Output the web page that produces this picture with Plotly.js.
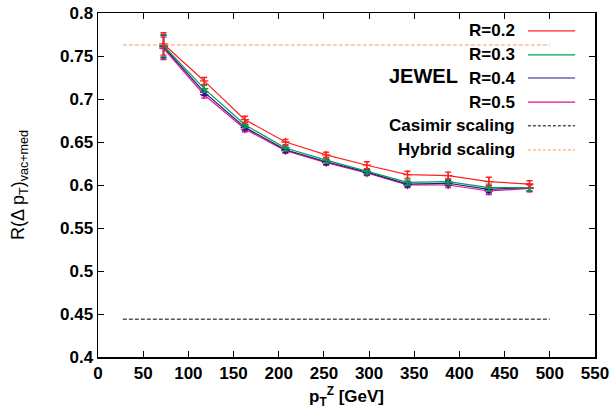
<!DOCTYPE html>
<html>
<head>
<meta charset="utf-8">
<script src="https://cdn.plot.ly/plotly-3.0.1.min.js"></script>
<style>html,body{margin:0;padding:0;background:#fff;}#chart{width:614px;height:414px;}</style>
</head>
<body>
<div id="chart"></div>
<script>
const ptZ = [72.5, 117.5, 162.5, 207.5, 252.5, 297.5, 342.5, 387.5, 432.5, 477.5];
const r02 = [0.764, 0.721, 0.676, 0.650, 0.635, 0.623, 0.612, 0.611, 0.604, 0.601];
const r03 = [0.762, 0.712, 0.670, 0.643, 0.629, 0.616, 0.603, 0.604, 0.597, 0.597];
const r04 = [0.761, 0.708, 0.667, 0.641, 0.627, 0.615, 0.601, 0.602, 0.595, 0.597];
const r05 = [0.759, 0.705, 0.665, 0.640, 0.626, 0.614, 0.600, 0.600, 0.593, 0.596];
const e02 = [0.013, 0.004, 0.004, 0.003, 0.003, 0.004, 0.004, 0.004, 0.005, 0.004];
const e03 = [0.013, 0.004, 0.003, 0.003, 0.003, 0.003, 0.003, 0.003, 0.004, 0.004];
const e04 = [0.013, 0.004, 0.003, 0.003, 0.003, 0.003, 0.003, 0.003, 0.004, 0.004];
const e05 = [0.013, 0.004, 0.003, 0.003, 0.003, 0.003, 0.003, 0.003, 0.004, 0.004];
const scalingX = [27.5, 500];
const casimir = 0.444;
const hybrid = 0.7628;
const seriesNames = ['R=0.2', 'R=0.3', 'R=0.4', 'R=0.5'];
const seriesColors = ['#ff2020', '#00a050', '#1a1a8c', '#e0108c'];
const refNames = ['Casimir scaling', 'Hybrid scaling'];
const refColors = ['#000000', '#ff9a5a'];
const xTicks = [0, 50, 100, 150, 200, 250, 300, 350, 400, 450, 500, 550];
const yTicks = [0.4, 0.45, 0.5, 0.55, 0.6, 0.65, 0.7, 0.75, 0.8];
const yTickText = ['0.4', '0.45', '0.5', '0.55', '0.6', '0.65', '0.7', '0.75', '0.8'];

const ys = [r02, r03, r04, r05];
const es = [e02, e03, e04, e05];
const traces = [];
traces.push({x: scalingX, y: [casimir, casimir], mode: 'lines', line: {color: refColors[0], width: 1, dash: '4px,2px'}, showlegend: false, hoverinfo: 'skip'});
traces.push({x: scalingX, y: [hybrid, hybrid], mode: 'lines', line: {color: refColors[1], width: 1.2, dash: '4px,2px'}, showlegend: false, hoverinfo: 'skip'});
for (let i = ys.length - 1; i >= 0; i--) {
  traces.push({
    x: ptZ, y: ys[i], name: seriesNames[i], mode: 'lines+markers',
    line: {color: seriesColors[i], width: 1.2},
    marker: {symbol: 'cross-thin', size: 6, line: {color: seriesColors[i], width: 1.3}, color: seriesColors[i]},
    error_y: {type: 'data', array: es[i], visible: true, color: seriesColors[i], thickness: 1.4, width: 3},
    showlegend: false
  });
}

const FAM = 'Liberation Sans, Arial, sans-serif';
const bold = {family: FAM, size: 17, color: '#000', weight: 'bold'};
const annotations = [];
const shapes = [];
const rowY = [0.948, 0.878, 0.811, 0.741, 0.672, 0.602];
const legNames = seriesNames.concat(refNames);
const legColors = seriesColors.concat(refColors);
for (let i = 0; i < legNames.length; i++) {
  annotations.push({xref: 'paper', yref: 'paper', x: 0.843, y: rowY[i], xanchor: 'right', yanchor: 'middle', text: legNames[i], showarrow: false, font: bold});
  shapes.push({type: 'line', xref: 'paper', yref: 'paper', x0: 0.865, x1: 0.960, y0: rowY[i], y1: rowY[i], line: {color: legColors[i], width: i < 4 ? 1.2 : 1, dash: i < 4 ? 'solid' : '3px,2px'}});
}
annotations.push({xref: 'paper', yref: 'paper', x: 0.654, y: 0.818, xanchor: 'center', yanchor: 'middle', text: 'JEWEL', showarrow: false, font: {family: FAM, size: 20, color: '#000', weight: 'bold'}});

const layout = {
  width: 614, height: 414,
  margin: {l: 98, r: 19, t: 13, b: 57},
  paper_bgcolor: '#fff', plot_bgcolor: '#fff',
  showlegend: false,
  xaxis: {
    range: [0, 550], tickvals: xTicks, ticktext: xTicks.map(String),
    ticks: 'inside', ticklen: 6, tickwidth: 1, tickcolor: '#000',
    showline: true, linecolor: '#000', linewidth: 1.5, mirror: 'ticks',
    showgrid: false, zeroline: false, tickfont: bold, automargin: false,
    title: {text: 'p<sub>T</sub><sup>Z</sup> [GeV]', font: bold, standoff: 8}
  },
  yaxis: {
    range: [0.4, 0.8], tickvals: yTicks, ticktext: yTickText,
    ticks: 'inside', ticklen: 6, tickwidth: 1, tickcolor: '#000',
    showline: true, linecolor: '#000', linewidth: 1.5, mirror: 'ticks',
    showgrid: false, zeroline: false, tickfont: bold, automargin: false,
    title: {text: 'R(Δ p<sub>T</sub>)<sub>vac+med</sub>', font: {family: FAM, size: 18, color: '#000'}, standoff: 30}
  },
  annotations: annotations,
  shapes: shapes
};
Plotly.newPlot('chart', traces, layout, {displayModeBar: false, staticPlot: true});
</script>
</body>
</html>
